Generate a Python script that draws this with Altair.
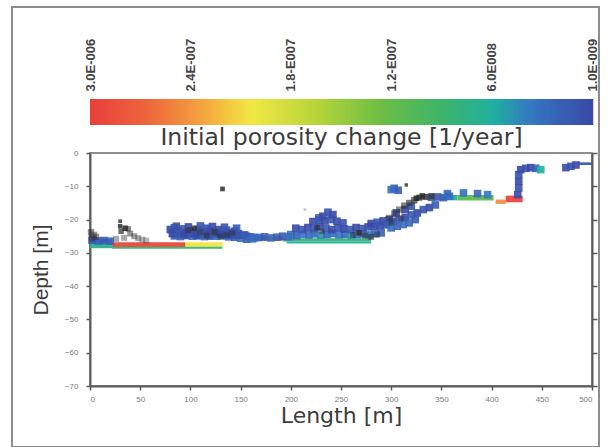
import altair as alt
import numpy as np
import pandas as pd

# ---------------- colour scale (0 = 3.0E-006 red ... 1 = 1.0E-009 blue) -------------
STOPS = [0.0, 0.12, 0.22, 0.32, 0.45, 0.58, 0.70, 0.80, 0.88, 1.0]
COLORS = ["#e8403c", "#ee693c", "#f4a33f", "#f2e843", "#b5d43a", "#6dbd45",
          "#3cb46a", "#1fb0a0", "#3575c2", "#3a48a6"]
CB_TICKS = [0.0, 0.2, 0.4, 0.6, 0.8, 1.0]
CB_LABELS = ["3.0E-006", "2.4E-007", "1.8-E007", "1.2-E007", "6.0E008", "1.0E-009"]

# ---------------- coloured bands (x0, x1, top depth, bottom depth, value) -----------
BAND_X0 = [0, 0, 22, 95, 22, 164, 173, 192, 196, 350, 366, 404, 414, 486]
BAND_X1 = [22, 22, 95, 132, 132, 174, 192, 280, 280, 366, 402, 414, 431, 500]
BAND_TOP = [-25.9, -27.2, -26.8, -26.8, -28.2, -25.0, -25.0, -25.6, -26.6, -12.6, -12.6, -14.0, -12.8, -2.8]
BAND_BOT = [-27.2, -28.6, -28.3, -28.2, -28.8, -26.3, -26.4, -26.6, -27.2, -14.2, -14.3, -15.3, -14.8, -3.6]
BAND_V = [0.92, 0.76, 0.02, 0.33, 0.70, 0.78, 0.02, 0.72, 0.80, 0.80, 0.62, 0.18, 0.02, 0.95]

# ---------------- coloured points -------------------------------------------------
PT_X = [80, 84, 88, 92, 96, 100, 104, 108, 112, 116, 120, 124, 128, 132, 136, 140, 144, 148,
        152, 156, 160, 164, 84, 90, 96, 102, 108, 114, 120, 126, 132, 138, 144, 150, 156, 162,
        168, 174, 180, 186, 192, 198,
        82, 88, 94, 100, 106, 112, 118, 124, 130, 136, 142, 148, 154,
        86, 98, 110, 122, 134, 146,
        2, 8, 14, 20,
        200, 206, 212, 218, 224, 230, 236, 242, 248, 254, 260, 266, 272, 278, 284, 290,
        205, 211, 217, 223, 229, 235, 241, 247, 253, 259, 265, 271, 277, 283, 289, 295,
        222, 228, 234, 240, 246, 252, 280, 286, 292, 298,
        228, 232, 237, 242,
        296, 302, 308, 314, 320, 326, 332, 338, 344, 300, 306, 312, 318, 324, 314, 320, 305,
        303, 307, 300,
        340, 346, 352, 358, 356, 372, 386, 396,
        426, 427, 427, 427, 429, 434, 439, 444, 449,
        474, 479, 484]
PT_D = [-23.0, -22.5, -23.5, -22.8, -24.0, -23.5, -24.2, -23.0, -23.8, -22.6, -23.4, -24.0,
        -23.0, -23.6, -23.2, -24.0, -23.5, -24.2, -24.8, -25.0, -25.2, -25.4, -24.9, -25.1,
        -24.8, -25.0, -24.9, -25.1, -25.0, -25.0, -24.9, -25.2, -25.3, -25.6, -25.9, -25.8,
        -25.4, -25.2, -25.5, -25.3, -25.0, -25.2,
        -24.2, -24.4, -24.5, -24.3, -24.6, -24.4, -24.5, -24.3, -24.4, -24.6, -24.5, -24.7, -24.6,
        -22.0, -22.2, -21.9, -22.1, -22.3, -22.6,
        -26.2, -26.4, -26.3, -26.5,
        -24.5, -24.8, -24.4, -24.6, -24.3, -24.7, -24.5, -24.2, -24.6, -24.4, -24.8, -24.5,
        -24.3, -24.6, -24.2, -24.0,
        -22.6, -23.0, -22.4, -22.8, -22.2, -22.6, -23.0, -22.5, -22.8, -23.0, -22.4, -22.7,
        -22.2, -22.0, -21.8, -21.6,
        -20.6, -20.2, -20.4, -20.0, -20.5, -21.0, -21.2, -20.8, -20.4, -20.0,
        -19.5, -19.0, -17.8, -18.5,
        -21.0, -20.5, -20.0, -19.4, -18.6, -18.0, -17.0, -16.4, -15.6, -22.5, -22.0, -21.5,
        -21.0, -20.0, -17.0, -16.0, -18.0,
        -10.6, -11.2, -11.0,
        -13.3, -13.2, -13.4, -13.0, -12.2, -12.0, -12.2, -12.5,
        -12.5, -10.5, -8.5, -6.5, -5.0, -4.6, -4.4, -4.6, -5.0,
        -4.4, -4.0, -3.6]
PT_V = [1.0, 0.97, 1.0, 0.95, 1.0, 0.98, 1.0, 0.96, 1.0, 0.97, 1.0, 0.95, 1.0, 0.98, 0.95,
        1.0, 0.97, 1.0, 0.95, 0.93, 0.96, 0.92, 0.94, 0.92, 0.96, 0.9, 0.95, 0.92, 0.96, 0.9,
        0.94, 0.92, 0.95, 0.9, 0.93, 0.9, 0.92, 0.95, 0.9, 0.93, 0.95, 0.9,
        1.0, 0.96, 1.0, 0.97, 1.0, 0.95, 1.0, 0.97, 1.0, 0.96, 1.0, 0.97, 0.95,
        0.97, 1.0, 0.96, 1.0, 0.97, 0.95,
        0.95, 0.93, 0.95, 0.93,
        0.9, 0.93, 0.88, 0.92, 0.9, 0.85, 0.93, 0.9, 0.88, 0.92, 0.84, 0.9, 0.92, 0.88, 0.9, 0.93,
        1.0, 0.96, 1.0, 0.97, 1.0, 0.95, 1.0, 0.97, 1.0, 0.95, 1.0, 0.96, 1.0, 0.98, 1.0, 0.96,
        1.0, 0.97, 1.0, 0.95, 1.0, 0.97, 1.0, 0.96, 1.0, 0.97,
        0.95, 1.0, 0.97, 1.0,
        0.95, 1.0, 0.96, 1.0, 0.95, 1.0, 0.96, 1.0, 0.95, 0.9, 0.93, 0.9, 0.92, 0.95, 1.0, 0.97, 1.0,
        0.92, 0.95, 0.9,
        0.95, 0.97, 0.93, 0.9, 0.92, 0.9, 0.92, 0.88,
        1.0, 0.98, 1.0, 0.97, 1.0, 0.98, 1.0, 0.95, 0.8,
        1.0, 0.97, 1.0]

# ---------------- grey / black points -------------------------------------------
GR_X = [1, 4, 2, 6, 30, 30, 31, 35, 38, 40, 44, 34, 48, 52, 26, 56,
        98, 104, 110, 116, 124, 130, 136, 142,
        226, 231, 262, 268, 274, 280, 286,
        298, 303, 308, 313, 318, 323, 328, 334, 340, 325, 331, 300, 310,
        315, 132, 214]
GR_D = [-23.8, -24.6, -25.6, -25.2, -20.5, -22.0, -23.5, -22.6, -22.8, -24.2, -25.0, -25.5,
        -25.6, -26.0, -25.8, -26.3,
        -23.2, -22.6, -23.8, -24.8, -23.8, -25.0, -24.6, -23.9,
        -22.4, -23.5, -24.6, -24.0, -24.8, -25.2, -24.5,
        -19.5, -18.2, -17.0, -15.8, -15.0, -14.2, -13.4, -13.2, -13.0, -13.6, -12.9, -21.0, -19.6,
        -9.6, -10.8, -17.0]
GR_SHADE = [0.55, 0.5, 0.45, 0.5, 0.8, 0.85, 0.7, 0.9, 0.6, 0.5, 0.45, 0.4, 0.4, 0.35, 0.4, 0.35,
            0.5, 0.8, 0.45, 0.5, 0.6, 0.45, 0.5, 0.4,
            0.6, 0.45, 0.5, 0.85, 0.55, 0.6, 0.5,
            0.45, 0.5, 0.55, 0.6, 0.65, 0.7, 0.85, 0.8, 0.7, 0.9, 0.9, 0.35, 0.35,
            0.8, 0.85, 0.25]
GR_SIZE = [40, 40, 40, 40, 14, 20, 30, 30, 30, 36, 36, 36, 36, 36, 36, 36,
           36, 30, 36, 36, 36, 36, 36, 36,
           30, 30, 36, 30, 36, 36, 36,
           40, 40, 40, 40, 40, 40, 36, 36, 36, 30, 30, 36, 36,
           12, 22, 8]

bands = pd.DataFrame({"x0": BAND_X0, "x1": BAND_X1, "top": BAND_TOP, "bot": BAND_BOT, "v": BAND_V})
pts = pd.DataFrame({"x": PT_X, "d": PT_D, "v": PT_V})
grey = pd.DataFrame({"x": GR_X, "d": GR_D, "s": GR_SHADE, "size": GR_SIZE})

color_scale = alt.Scale(domain=STOPS, range=COLORS, interpolate="rgb")

W, H = 502, 233
x_scale = alt.Scale(domain=[0, 500], nice=False, zero=False)
y_scale = alt.Scale(domain=[-70, 0], nice=False, zero=False)

AX_LBL = dict(labelFont="Liberation Sans", labelFontSize=8, labelColor="#7a7a7a",
              domainColor="#5a5a5a", domainWidth=2, tickColor="#5a5a5a", tickWidth=1.5,
              tickSize=4, grid=False)

x_axis = alt.Axis(values=list(range(0, 501, 50)), title="Length [m]",
                  titleFont="DejaVu Sans", titleFontSize=22, titleFontWeight="normal",
                  titleColor="#3c3c3c", titlePadding=2, labelPadding=5, **AX_LBL)
y_axis = alt.Axis(values=list(range(-70, 1, 10)), title="Depth [m]",
                  titleFont="Liberation Sans", titleFontSize=21, titleFontWeight="normal",
                  titleColor="#3c3c3c", titlePadding=13, labelPadding=8, **AX_LBL)
y_axis_r = alt.Axis(values=list(range(-70, 1, 10)), orient="right", labels=False, title=None,
                    domainColor="#5a5a5a", domainWidth=2, tickColor="#5a5a5a", tickWidth=1.5,
                    tickSize=5, grid=False)

band_layer = alt.Chart(bands).mark_rect(opacity=0.95).encode(
    x=alt.X("x0:Q", scale=x_scale, axis=x_axis),
    x2="x1:Q",
    y=alt.Y("top:Q", scale=y_scale, axis=y_axis_r),
    y2="bot:Q",
    color=alt.Color("v:Q", scale=color_scale, legend=None),
)

pt_layer = alt.Chart(pts).mark_square(size=58, opacity=0.9).encode(
    x=alt.X("x:Q", scale=x_scale, axis=x_axis),
    y=alt.Y("d:Q", scale=y_scale, axis=y_axis),
    color=alt.Color("v:Q", scale=color_scale, legend=None),
)

grey_layer = alt.Chart(grey).mark_square(color="#2e2e2e").encode(
    x=alt.X("x:Q", scale=x_scale, axis=x_axis),
    y=alt.Y("d:Q", scale=y_scale, axis=None),
    opacity=alt.Opacity("s:Q", scale=alt.Scale(domain=[0, 1], range=[0, 1]), legend=None),
    size=alt.Size("size:Q", scale=alt.Scale(domain=[0, 40], range=[0, 40]), legend=None),
)

frame = alt.Chart(alt.Data(values=[{"k": 1}])).mark_rect(
    fill="transparent", stroke="#8c8c8c", strokeWidth=2
).encode(
    x=alt.value(-78), x2=alt.value(509), y=alt.value(-146), y2=alt.value(294)
)

main = alt.layer(band_layer, pt_layer, grey_layer, frame).resolve_axis(y="independent").properties(
    width=W, height=H,
    view=alt.ViewBackground(stroke="#6a6a6a", strokeWidth=1.5),
)

# ---------------- colour bar --------------------------------------------------------
grad = pd.DataFrame({"v": np.linspace(0, 1, 201)[:-1]})
grad["v2"] = grad["v"] + 0.0075
label_expr = "[" + ",".join("'" + s + "'" for s in CB_LABELS) + "][round(datum.value*5)]"

cbar = alt.Chart(grad).mark_rect().encode(
    x=alt.X("v:Q", scale=alt.Scale(domain=[0, 1], nice=False, zero=False),
            axis=alt.Axis(orient="top", values=CB_TICKS, labelExpr=label_expr, labelAngle=270,
                          labelAlign="left", labelBaseline="middle", labelPadding=8,
                          labelFont="Liberation Sans", labelFontSize=13, labelFontWeight="bold",
                          labelColor="#444444",
                          ticks=False, domain=False, grid=False,
                          title="Initial porosity change [1/year]", titleFont="DejaVu Sans",
                          titleFontSize=23.5, titleFontWeight="normal", titleColor="#3c3c3c",
                          titleAnchor="middle", titleBaseline="alphabetic", titleY=45)),
    x2="v2:Q",
    color=alt.Color("v:Q", scale=color_scale, legend=None),
).properties(width=W, height=26, view=alt.ViewBackground(stroke="transparent"))

chart = alt.vconcat(cbar, main, spacing=28, bounds="flush").properties(
    padding={"left": 10, "top": 5, "right": 0, "bottom": 0},
    background="white",
).configure_view(stroke=None).resolve_scale(color="shared")

chart.save("out.html", embed_options={"renderer": "svg", "actions": False})
